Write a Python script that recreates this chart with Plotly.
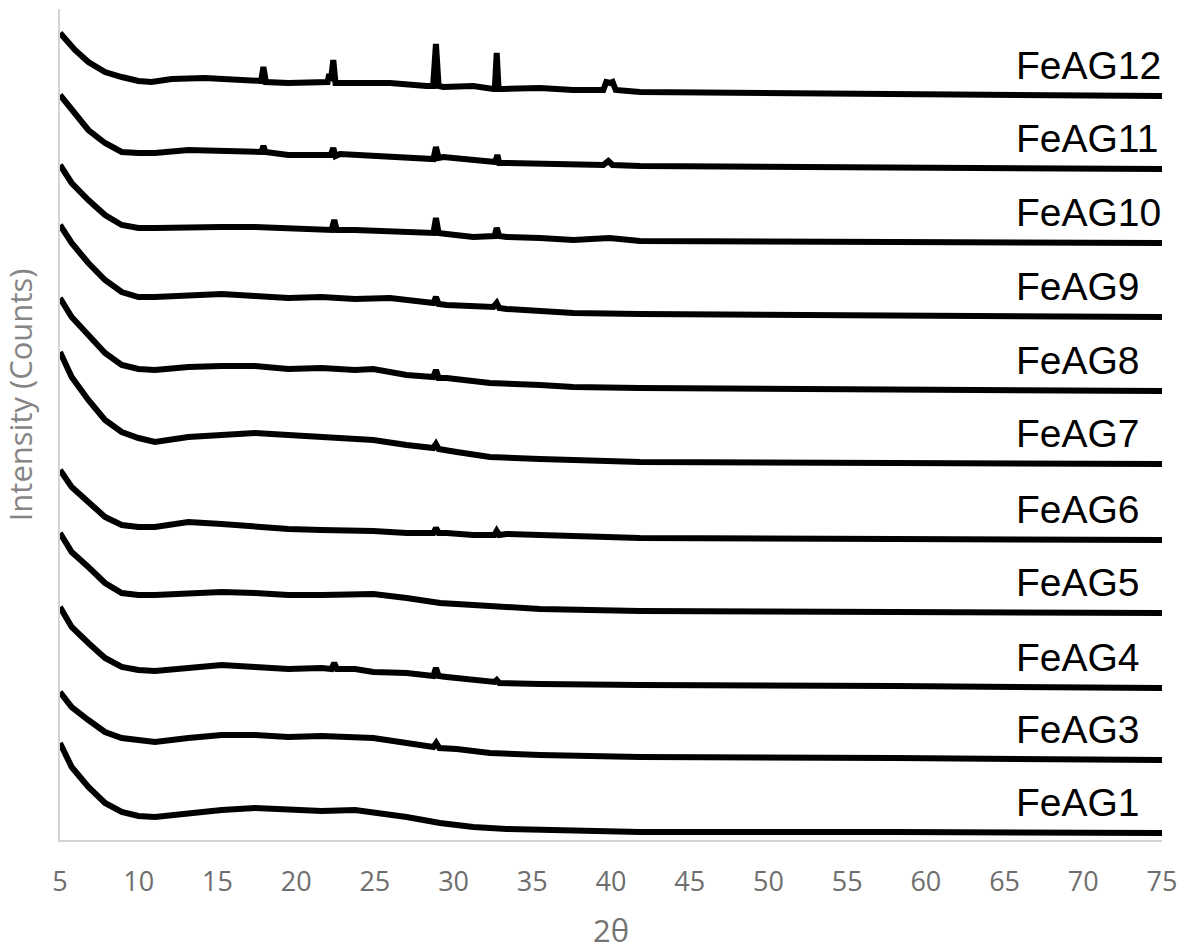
import plotly.graph_objects as go

# 2-theta (degrees) and stacked intensity (a.u., offset per sample)
fe12_x = [5.0, 5.95, 6.8, 7.86, 8.92, 9.98, 10.82, 12.09, 14.2, 16.33, 17.6, 17.78, 17.92, 18.08, 19.5, 21.62, 22.0, 22.1, 22.2, 22.36, 22.5, 22.79, 25.96, 28.29, 28.7, 28.88, 29.05, 29.35, 31.25, 32.53, 32.62, 32.74, 32.86, 33.16, 35.49, 37.6, 39.51, 39.7, 39.94, 40.1, 40.3, 41.84, 58.0, 75.0]
fe12_y = [807, 790, 778, 768, 763, 759, 758, 761, 762, 761, 759, 759, 773, 758, 757, 758, 758, 766, 759, 780, 757, 757, 757, 754, 754, 796, 754, 753, 754, 751, 751, 787, 751, 751, 752, 750, 750, 758, 757, 758, 750, 748, 746, 744]

fe11_x = [5.0, 5.74, 6.8, 7.86, 8.92, 9.98, 11.03, 13.15, 15.27, 17.39, 17.8, 17.92, 18.05, 19.5, 21.62, 22.2, 22.36, 22.5, 22.79, 25.96, 28.29, 28.72, 28.88, 29.05, 29.35, 32.31, 32.65, 32.78, 32.9, 33.37, 35.49, 39.51, 39.83, 40.1, 41.84, 58.0, 75.0]
fe11_y = [745, 730, 710, 697, 688, 687, 687, 690, 689, 688, 688, 694, 688, 685, 685, 685, 692, 684, 686, 683, 681, 681, 693, 682, 683, 678, 678, 685, 677, 677, 676, 675, 679, 675, 674, 673, 671]

fe10_x = [5.0, 5.74, 6.8, 7.86, 8.92, 9.98, 11.03, 13.15, 15.27, 17.39, 19.5, 21.62, 22.25, 22.42, 22.58, 23.74, 25.96, 28.29, 28.72, 28.88, 29.05, 29.56, 31.25, 32.6, 32.74, 32.9, 33.37, 35.49, 37.6, 39.9, 41.84, 58.0, 75.0]
fe10_y = [675, 657, 640, 625, 615, 612, 612, 613, 613, 613, 612, 610, 610, 620, 610, 610, 608, 607, 607, 622, 607, 606, 603, 604, 612, 604, 603, 602, 600, 602, 599, 598, 597]

fe9_x = [5.0, 5.74, 6.8, 7.86, 8.92, 9.98, 11.03, 13.15, 15.27, 17.39, 19.5, 21.62, 23.74, 25.96, 28.29, 28.72, 28.88, 29.05, 29.56, 32.53, 32.74, 32.9, 33.37, 35.49, 37.6, 41.84, 58.0, 75.0]
fe9_y = [615, 597, 577, 560, 548, 543, 543, 544, 546, 544, 542, 543, 541, 542, 537, 537, 543, 536, 535, 533, 537, 532, 531, 529, 527, 526, 524, 523]

fe8_x = [5.0, 5.74, 6.8, 7.86, 8.92, 9.98, 11.03, 13.15, 15.27, 17.39, 19.5, 21.62, 23.74, 24.9, 27.02, 28.29, 28.72, 28.88, 29.05, 29.56, 32.31, 35.49, 37.6, 41.84, 58.0, 75.0]
fe8_y = [542, 523, 505, 487, 475, 471, 470, 473, 474, 474, 471, 472, 470, 471, 465, 463, 463, 470, 462, 462, 457, 455, 453, 452, 450, 449]

fe7_x = [5.0, 5.74, 6.8, 7.86, 8.92, 9.98, 11.03, 12.09, 13.15, 15.27, 17.39, 19.5, 21.62, 23.74, 24.9, 27.02, 28.71, 28.88, 29.05, 30.2, 32.31, 35.49, 38.66, 41.84, 58.0, 75.0]
fe7_y = [488, 463, 440, 420, 408, 402, 398, 400, 403, 405, 407, 405, 403, 402, 400, 395, 392, 396, 391, 388, 383, 381, 379, 378, 377, 376]

fe6_x = [5.0, 5.74, 6.8, 7.86, 8.92, 9.98, 11.03, 13.15, 15.27, 17.39, 19.5, 21.62, 23.74, 24.9, 27.02, 28.72, 28.88, 29.05, 29.56, 31.25, 32.6, 32.74, 32.9, 33.37, 35.49, 38.66, 41.84, 58.0, 75.0]
fe6_y = [370, 353, 338, 323, 315, 313, 313, 318, 316, 313, 311, 310, 310, 309, 307, 307, 312, 307, 307, 305, 305, 309, 305, 306, 305, 304, 302, 301, 300]

fe5_x = [5.0, 5.74, 6.8, 7.86, 8.92, 9.98, 11.03, 13.15, 15.27, 17.39, 19.5, 21.62, 23.74, 24.9, 27.02, 29.14, 31.25, 33.37, 35.49, 38.66, 41.84, 58.0, 75.0]
fe5_y = [307, 288, 273, 257, 247, 245, 245, 247, 248, 247, 245, 245, 245, 246, 242, 237, 235, 233, 231, 230, 229, 228, 227]

fe4_x = [5.0, 5.74, 6.8, 7.86, 8.92, 9.98, 11.03, 13.15, 15.27, 17.39, 19.5, 21.62, 22.25, 22.42, 22.58, 23.74, 24.9, 27.02, 28.72, 28.88, 29.05, 29.56, 32.6, 32.74, 32.9, 35.49, 38.66, 41.84, 58.0, 75.0]
fe4_y = [233, 213, 197, 182, 173, 170, 169, 172, 175, 173, 171, 172, 171, 177, 171, 171, 168, 167, 164, 172, 164, 163, 158, 160, 157, 156, 156, 155, 154, 152]

fe3_x = [5.0, 5.74, 6.8, 7.86, 8.92, 9.98, 11.03, 13.15, 15.27, 17.39, 19.5, 21.62, 23.74, 24.9, 27.02, 28.72, 28.9, 29.1, 30.2, 32.31, 35.49, 38.66, 41.84, 58.0, 75.0]
fe3_y = [148, 133, 120, 108, 102, 100, 98, 102, 105, 105, 103, 104, 103, 102, 97, 93, 97, 92, 91, 87, 85, 84, 83, 82, 80]

fe1_x = [5.0, 5.74, 6.8, 7.86, 8.92, 9.98, 11.03, 13.15, 15.27, 17.39, 19.5, 21.62, 23.74, 24.9, 27.02, 29.14, 31.25, 33.37, 35.49, 38.66, 41.84, 58.0, 75.0]
fe1_y = [97, 73, 53, 37, 28, 24, 23, 27, 30, 32, 30, 29, 30, 28, 23, 17, 13, 11, 10, 8, 8, 8, 7]

sample_names = ["FeAG12", "FeAG11", "FeAG10", "FeAG9", "FeAG8", "FeAG7",
                "FeAG6", "FeAG5", "FeAG4", "FeAG3", "FeAG1"]
series_x = [fe12_x, fe11_x, fe10_x, fe9_x, fe8_x, fe7_x, fe6_x, fe5_x, fe4_x, fe3_x, fe1_x]
series_y = [fe12_y, fe11_y, fe10_y, fe9_y, fe8_y, fe7_y, fe6_y, fe5_y, fe4_y, fe3_y, fe1_y]
x_ticks = [5, 10, 15, 20, 25, 30, 35, 40, 45, 50, 55, 60, 65, 70, 75]

fig = go.Figure()
for name, xs, ys in zip(sample_names, series_x, series_y):
    fig.add_trace(go.Scatter(x=xs, y=ys, mode="lines", name=name,
                             line=dict(color="black", width=6),
                             showlegend=False))

annotations = []
for name, xs, ys in zip(sample_names, series_x, series_y):
    annotations.append(dict(x=65.6, y=ys[-1] + 31, xref="x", yref="y",
                            text=name, showarrow=False, xanchor="left", yanchor="middle",
                            font=dict(family="Liberation Sans, Arial", size=39, color="black")))
annotations.append(dict(x=0.5, y=-0.108, xref="paper", yref="paper", text="2θ",
                        showarrow=False, xanchor="center", yanchor="middle",
                        font=dict(family="Open Sans", size=31, color="#737373")))
annotations.append(dict(x=-0.036, y=0.5355, xref="paper", yref="paper",
                        text="Intensity (Counts)", textangle=-90,
                        showarrow=False, xanchor="center", yanchor="middle",
                        font=dict(family="Open Sans", size=31, color="#858585")))

fig.update_layout(
    width=1189, height=952,
    margin=dict(l=60, r=27, t=9, b=112),
    paper_bgcolor="white", plot_bgcolor="white",
    annotations=annotations,
    xaxis=dict(range=[5, 75], tickvals=x_ticks, ticktext=[str(v) for v in x_ticks],
               showline=True, linecolor="#d4d4d4", linewidth=2, mirror=False,
               showgrid=False, zeroline=False, ticks="",
               ticklabelstandoff=17,
               tickfont=dict(family="Open Sans", size=27, color="#6e6e6e")),
    yaxis=dict(range=[0, 831], showline=True, linecolor="#d4d4d4", linewidth=2,
               showgrid=False, zeroline=False, ticks="", showticklabels=False),
)

fig.write_html("out.html")
